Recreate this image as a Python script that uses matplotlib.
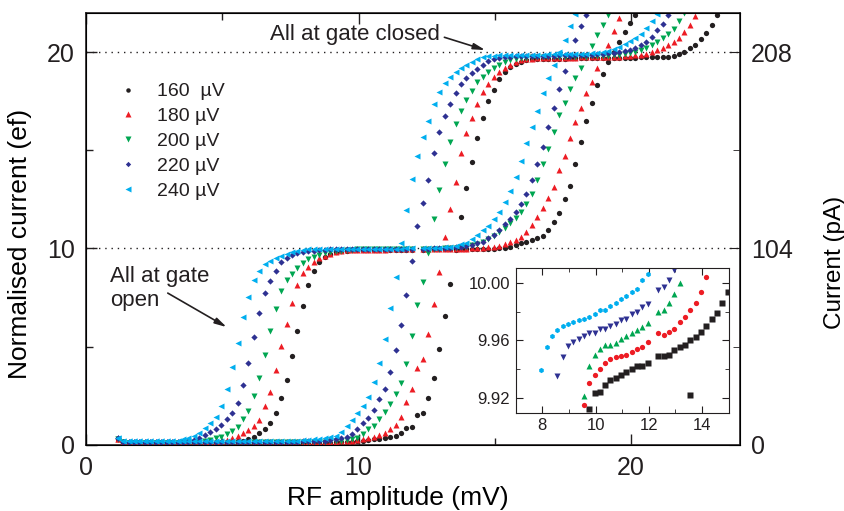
import numpy as np
import matplotlib.pyplot as plt
from matplotlib.ticker import MultipleLocator

plt.rcParams['font.family'] = ['Liberation Sans', 'DejaVu Sans']
plt.rcParams['text.color'] = '#231f20'

# RF amplitude sweep: first point and step (mV)
rf_start = 1.16
rf_step = 0.2

labels = ['160  µV', '180 µV', '200 µV', '220 µV', '240 µV']
colors = ['#231f20', '#ed1c24', '#00a651', '#2e3192', '#00aeef']
markers = ['o', '^', 'v', 'D', '<']
marker_sizes = [3.8, 4.4, 4.4, 3.2, 4.4]
inset_markers = ['s', 'o', '^', 'v', 'h']

nan = np.nan

# "gate open" sweeps (steps at ~6 mV and ~16 mV)
open_160 = [0.32, 0.12, 0.1, 0.1, 0.1, 0.1, 0.1, 0.1, 0.1, 0.1,
            0.1, 0.1, 0.1, 0.1, 0.1, 0.1, 0.1, 0.11, 0.11, 0.12,
            0.13, 0.15, 0.18, 0.22, 0.3, 0.42, 0.6, 0.8, 1.14, 1.64,
            2.41, 3.31, 4.53, 5.82, 7.07, 8.14, 8.85, 9.3, 9.55, 9.7,
            9.8, 9.86, 9.895, 9.912, 9.923, 9.924, 9.929, 9.932, 9.934, 9.936,
            9.938, 9.94, 9.942, 9.942, 9.944, nan, 9.949, 9.949, 9.95, 9.953,
            9.955, 9.957, 9.96, 9.962, 9.966, 9.97, 9.975, 9.979, 9.986, 9.994,
            10.02, 10.05, 10.1, 10.17, 10.26, 10.34, 10.43, 10.51, 10.65, 10.95,
            11.33, 11.8, 12.5, 13.2, 14.3, 15.4, 16.5, 17.4, 18.3, 18.9,
            19.5, 20.0, 20.5, 21.0, 21.5, 21.9, 22.3]
open_180 = [0.3, 0.12, 0.11, 0.11, 0.11, 0.11, 0.11, 0.11, 0.11, 0.11,
            0.11, 0.11, 0.11, 0.11, 0.12, 0.12, 0.13, 0.14, 0.16, 0.18,
            0.25, 0.35, 0.45, 0.6, 0.75, 0.97, 1.25, 1.98, 2.71, 3.81,
            5.04, 6.15, 7.24, 8.14, 8.73, 9.04, 9.32, 9.5, 9.62, 9.72,
            9.8, 9.87, 9.915, 9.93, 9.936, 9.94, 9.944, 9.947, 9.948, 9.949,
            9.95, 9.952, 9.954, 9.955, 9.959, nan, 9.965, 9.964, 9.966, 9.968,
            9.973, 9.976, 9.981, 9.986, 9.994, 10.004, 10.02, 10.04, 10.06, 10.09,
            10.14, 10.21, 10.31, 10.43, 10.6, 10.85, 11.19, 11.61, 12.04, 12.55,
            13.14, 13.99, 14.72, 15.6, 16.45, 17.16, 17.89, 18.48, 19.19, 19.75,
            20.38, 21.06, 21.74, 22.3]
open_200 = [0.3, 0.13, 0.12, 0.12, 0.12, 0.12, 0.12, 0.12, 0.12, 0.12,
            0.12, 0.12, 0.13, 0.13, 0.14, 0.16, 0.2, 0.26, 0.33, 0.42,
            0.55, 0.72, 0.93, 1.31, 1.73, 2.49, 3.42, 4.58, 5.8, 6.9,
            7.83, 8.39, 8.7, 8.99, 9.24, 9.45, 9.58, 9.66, 9.75, 9.81,
            9.86, 9.895, 9.921, 9.942, 9.95, 9.954, 9.957, 9.957, 9.958, 9.961,
            9.963, 9.965, 9.967, 9.969, 9.972, nan, 9.98, 9.981, 9.986, 9.992,
            10.0, 10.015, 10.03, 10.06, 10.1, 10.16, 10.25, 10.34, 10.46, 10.62,
            10.82, 11.05, 11.28, 11.53, 11.87, 12.29, 12.75, 13.48, 14.28, 15.04,
            15.94, 16.79, 17.43, 18.14, 18.7, 19.21, 19.75, 20.3, 20.85, 21.36,
            21.9, 22.4]
open_220 = [0.33, 0.15, 0.14, 0.14, 0.14, 0.14, 0.14, 0.14, 0.14, 0.14,
            0.14, 0.15, 0.16, 0.19, 0.26, 0.38, 0.52, 0.68, 0.81, 1.02,
            1.32, 1.64, 2.15, 3.05, 4.19, 5.48, 6.73, 7.72, 8.36, 8.87,
            9.29, 9.5, 9.65, 9.75, 9.83, 9.87, 9.895, 9.935, 9.948, 9.956,
            9.959, 9.961, 9.963, 9.965, 9.965, 9.968, 9.968, 9.97, 9.971, 9.974,
            9.975, 9.978, 9.98, 9.983, 9.985, nan, 9.995, 9.997, 10.002, 10.009,
            10.02, 10.04, 10.06, 10.09, 10.13, 10.19, 10.26, 10.34, 10.51, 10.68,
            10.94, 11.24, 11.48, 11.87, 12.29, 12.77, 13.51, 14.28, 15.17, 16.16,
            17.16, 18.14, 19.02, 19.8, 20.6, 21.3, 21.9, 22.5]
open_240 = [0.35, 0.2, 0.18, 0.18, 0.18, 0.18, 0.18, 0.18, 0.18, 0.19,
            0.2, 0.22, 0.28, 0.38, 0.47, 0.6, 0.85, 1.13, 1.41, 2.0,
            2.83, 3.95, 5.17, 6.5, 7.54, 8.39, 8.85, 9.21, 9.37, 9.5,
            9.61, 9.72, 9.82, 9.88, 9.939, 9.955, 9.963, 9.967, 9.97, 9.971,
            9.973, 9.974, 9.975, 9.976, 9.978, 9.981, 9.981, 9.984, 9.986, 9.989,
            9.991, 9.994, 9.996, 10.002, 10.006, nan, 10.015, 10.025, 10.035, 10.045,
            10.06, 10.09, 10.14, 10.21, 10.29, 10.46, 10.68, 10.94, 11.16, 11.48,
            11.87, 12.38, 12.94, 13.65, 14.45, 15.38, 16.16, 16.99, 17.89, 18.7,
            19.36, 20.0, 20.63, 21.33, 21.96, 22.6]

# "gate closed" sweeps (single step 0 -> 20 at ~12 mV)
closed_160 = [0.32, 0.12, 0.1, 0.1, 0.1, 0.1, 0.1, 0.1, 0.1, 0.1,
              0.1, 0.1, 0.1, 0.1, 0.1, 0.1, 0.1, 0.1, 0.1, 0.1,
              0.1, 0.1, 0.1, 0.1, 0.1, 0.1, 0.1, 0.1, 0.1, 0.1,
              0.1, 0.1, 0.1, 0.1, 0.1, 0.11, 0.11, 0.11, 0.12, 0.12,
              0.13, 0.14, 0.15, 0.16, 0.18, 0.2, 0.25, 0.28, 0.31, 0.35,
              0.4, 0.46, 0.6, 0.85, 0.9, 1.53, 1.61, 2.41, 3.42, 4.87,
              6.56, 8.19, 9.922, 11.61, 13.08, 14.41, 15.6, 16.65, 17.5, 18.09,
              18.62, 18.99, 19.24, 19.4, 19.5, 19.58, 19.63, 19.65, 19.66, 19.66,
              19.67, 19.67, 19.67, 19.68, 19.68, 19.68, 19.69, 19.69, 19.7, 19.7,
              19.7, 19.71, 19.71, 19.72, 19.72, 19.72, 19.73, 19.73, 19.74, 19.75,
              19.76, 19.77, 19.82, 19.9, 20.0, 20.18, 20.35, 20.64, 20.99, 21.4,
              21.87, 22.4]
closed_180 = [0.3, 0.12, 0.11, 0.11, 0.11, 0.11, 0.11, 0.11, 0.11, 0.11,
              0.11, 0.11, 0.11, 0.11, 0.11, 0.11, 0.11, 0.11, 0.11, 0.11,
              0.11, 0.11, 0.11, 0.11, 0.11, 0.11, 0.11, 0.11, 0.11, 0.11,
              0.11, 0.11, 0.12, 0.12, 0.12, 0.13, 0.13, 0.14, 0.15, 0.16,
              0.17, 0.18, 0.2, 0.22, 0.25, 0.28, 0.33, 0.4, 0.5, 0.6,
              0.8, 1.0, 1.41, 2.17, 2.85, 3.9, 4.37, 5.63, 7.17, 8.82,
              10.58, 12.0, 13.39, 14.84, 15.89, 16.65, 17.33, 17.94, 18.35, 18.73,
              18.99, 19.19, 19.36, 19.5, 19.58, 19.65, 19.67, 19.68, 19.69, 19.7,
              19.7, 19.71, 19.71, 19.72, 19.72, 19.73, 19.73, 19.74, 19.74, 19.75,
              19.75, 19.76, 19.77, 19.78, 19.8, 19.83, 19.87, 19.92, 19.98, 20.08,
              20.2, 20.35, 20.5, 20.72, 21.02, 21.4, 21.84, 22.3]
closed_200 = [0.3, 0.13, 0.12, 0.12, 0.12, 0.12, 0.12, 0.12, 0.12, 0.12,
              0.12, 0.12, 0.12, 0.12, 0.12, 0.12, 0.12, 0.12, 0.12, 0.12,
              0.12, 0.12, 0.12, 0.12, 0.12, 0.13, 0.13, 0.13, 0.13, 0.13,
              0.13, 0.13, 0.14, 0.14, 0.14, 0.15, 0.15, 0.16, 0.17, 0.18,
              0.19, 0.21, 0.25, 0.29, 0.35, 0.55, 0.8, 0.97, 1.31, 1.66,
              2.09, 2.58, 3.17, 4.1, 5.54, 7.12, 8.3, 9.78, 11.5, 13.0,
              14.28, 15.43, 16.33, 16.99, 17.55, 18.01, 18.45, 18.73, 18.99, 19.19,
              19.36, 19.5, 19.58, 19.65, 19.7, 19.72, 19.73, 19.74, 19.74, 19.75,
              19.75, 19.76, 19.76, 19.77, 19.77, 19.78, 19.78, 19.79, 19.8, 19.81,
              19.82, 19.84, 19.87, 19.9, 19.95, 20.0, 20.1, 20.2, 20.35, 20.51,
              20.72, 20.94, 21.19, 21.57, 22.0, 22.5]
closed_220 = [0.33, 0.15, 0.14, 0.14, 0.14, 0.14, 0.14, 0.14, 0.14, 0.14,
              0.14, 0.14, 0.14, 0.14, 0.14, 0.14, 0.14, 0.14, 0.14, 0.14,
              0.14, 0.14, 0.14, 0.14, 0.15, 0.15, 0.15, 0.15, 0.15, 0.16,
              0.16, 0.16, 0.17, 0.17, 0.18, 0.18, 0.19, 0.2, 0.22, 0.25,
              0.29, 0.34, 0.4, 0.56, 0.8, 1.1, 1.36, 1.78, 2.32, 2.83,
              3.73, 4.83, 6.1, 7.63, 9.38, 11.13, 12.3, 13.51, 14.87, 15.94,
              16.73, 17.33, 17.89, 18.35, 18.68, 18.91, 19.16, 19.36, 19.53, 19.63,
              19.7, 19.75, 19.77, 19.78, 19.79, 19.8, 19.8, 19.81, 19.81, 19.82,
              19.82, 19.83, 19.83, 19.84, 19.84, 19.85, 19.86, 19.87, 19.88, 19.9,
              19.93, 19.97, 20.02, 20.07, 20.12, 20.22, 20.35, 20.51, 20.77, 21.11,
              21.45, 21.87, 22.3]
closed_240 = [0.35, 0.2, 0.18, 0.18, 0.18, 0.18, 0.18, 0.18, 0.18, 0.18,
              0.18, 0.18, 0.18, 0.18, 0.18, 0.18, 0.18, 0.18, 0.18, 0.18,
              0.18, 0.18, 0.18, 0.19, 0.19, 0.19, 0.2, 0.2, 0.2, 0.21,
              0.21, 0.21, 0.22, 0.22, 0.23, 0.25, 0.28, 0.31, 0.35, 0.4,
              0.48, 0.68, 0.97, 1.27, 1.61, 1.98, 2.46, 3.19, 4.19, 5.38,
              6.95, 8.53, 10.29, 11.95, 13.53, 14.7, 15.65, 16.5, 17.33, 17.94,
              18.4, 18.73, 18.99, 19.19, 19.33, 19.5, 19.67, 19.75, 19.8, 19.82,
              19.83, 19.84, 19.84, 19.85, 19.85, 19.86, 19.86, 19.87, 19.87, 19.88,
              19.88, 19.89, 19.89, 19.9, 19.9, 19.91, 19.92, 19.93, 19.95, 20.0,
              20.07, 20.15, 20.25, 20.4, 20.55, 20.69, 20.92, 21.23, 21.57, 21.95,
              22.4]

open_sweeps = [open_160, open_180, open_200, open_220, open_240]
closed_sweeps = [closed_160, closed_180, closed_200, closed_220, closed_240]

# right axis: I = n e f, 10 ef <-> 104 pA
current_per_ef = 10.4
right_ticks = [0, 104, 208]


def rf_axis(values):
    return np.round(rf_start + rf_step * np.arange(len(values)), 2)


fig = plt.figure(figsize=(8.45, 5.11), dpi=100)
ax = fig.add_axes([0.1018, 0.1292, 0.774, 0.8459])

ax.axhline(10, color='#231f20', ls=(0, (1, 3.5)), lw=1.0, zorder=1)
ax.axhline(20, color='#231f20', ls=(0, (1, 3.5)), lw=1.0, zorder=1)

for i in range(5):
    for sweep in (open_sweeps[i], closed_sweeps[i]):
        ax.plot(rf_axis(sweep), sweep, ls='none', marker=markers[i],
                ms=marker_sizes[i], color=colors[i], mec='none', zorder=3)

handles = [plt.Line2D([], [], ls='none', marker=markers[i], ms=marker_sizes[i] * 0.85,
                      color=colors[i], mec='none') for i in range(5)]
ax.legend(handles, labels, loc='upper left', bbox_to_anchor=(0.049, 0.838),
          frameon=False, fontsize=14, handlelength=1.0, handletextpad=1.0,
          borderpad=0, borderaxespad=0, labelspacing=0.37)

ax.set_xlim(0, 24)
ax.set_ylim(0, 22)
ax.xaxis.set_major_locator(MultipleLocator(10))
ax.xaxis.set_minor_locator(MultipleLocator(5))
ax.yaxis.set_major_locator(MultipleLocator(10))
ax.yaxis.set_minor_locator(MultipleLocator(5))
ax.tick_params(which='both', direction='in', top=True, right=False,
               labelsize=18, colors='#231f20', width=1.0)
ax.tick_params(which='major', length=8, pad=8)
ax.tick_params(which='minor', length=5)
for s in ax.spines.values():
    s.set_linewidth(1.2)
    s.set_color('#231f20')
ax.set_xlabel('RF amplitude (mV)', fontsize=19)
ax.xaxis.set_label_coords(0.477, -0.095)
ax.set_ylabel('Normalised current (ef)', fontsize=19)
ax.yaxis.set_label_coords(-0.083, 0.465)

ax2 = ax.twinx()
ax2.set_ylim(0, 22 * current_per_ef)
ax2.set_yticks(right_ticks)
ax2.yaxis.set_minor_locator(MultipleLocator(52))
ax2.tick_params(which='both', direction='in', labelsize=18, colors='#231f20')
ax2.tick_params(which='major', length=8, pad=8)
ax2.tick_params(which='minor', length=5)
ax2.set_ylabel('Current (pA)', fontsize=17.5)
ax2.yaxis.set_label_coords(1.128, 0.423)

ax.text(12.97, 20.9, 'All at gate closed', fontsize=16, ha='right', va='center')
ax.annotate('', xy=(14.65, 20.1), xytext=(13.15, 20.75),
            arrowprops=dict(arrowstyle='-|>,head_length=0.7,head_width=0.18',
                            color='#231f20', lw=1.2, shrinkA=0, shrinkB=0))
ax.text(0.88, 7.95, 'All at gate\nopen', fontsize=16, ha='left', va='center',
        linespacing=1.2)
ax.annotate('', xy=(5.16, 6.0), xytext=(3.0, 7.73),
            arrowprops=dict(arrowstyle='-|>,head_length=0.7,head_width=0.18',
                            color='#231f20', lw=1.2, shrinkA=0, shrinkB=0))

# inset: zoom on the 10 ef plateau
axin = fig.add_axes([0.6103, 0.1924, 0.2521, 0.2826])
for i in range(5):
    for sweep in (open_sweeps[i], closed_sweeps[i]):
        axin.plot(rf_axis(sweep), sweep, ls='none', marker=inset_markers[i],
                  ms=3.8, color=colors[i], mec='none')
axin.set_xlim(7, 15)
axin.set_ylim(9.9095, 10.0102)
axin.xaxis.set_major_locator(MultipleLocator(2))
axin.xaxis.set_minor_locator(MultipleLocator(1))
axin.set_yticks([9.92, 9.96, 10.00])
axin.set_yticklabels(['9.92', '9.96', '10.00'])
axin.yaxis.set_minor_locator(MultipleLocator(0.02))
axin.tick_params(which='both', direction='in', top=True, right=True,
                 labelsize=12, colors='#231f20', pad=4)
axin.tick_params(which='major', length=5)
axin.tick_params(which='minor', length=3)
for s in axin.spines.values():
    s.set_color('#231f20')

fig.savefig('out.png', dpi=100)
